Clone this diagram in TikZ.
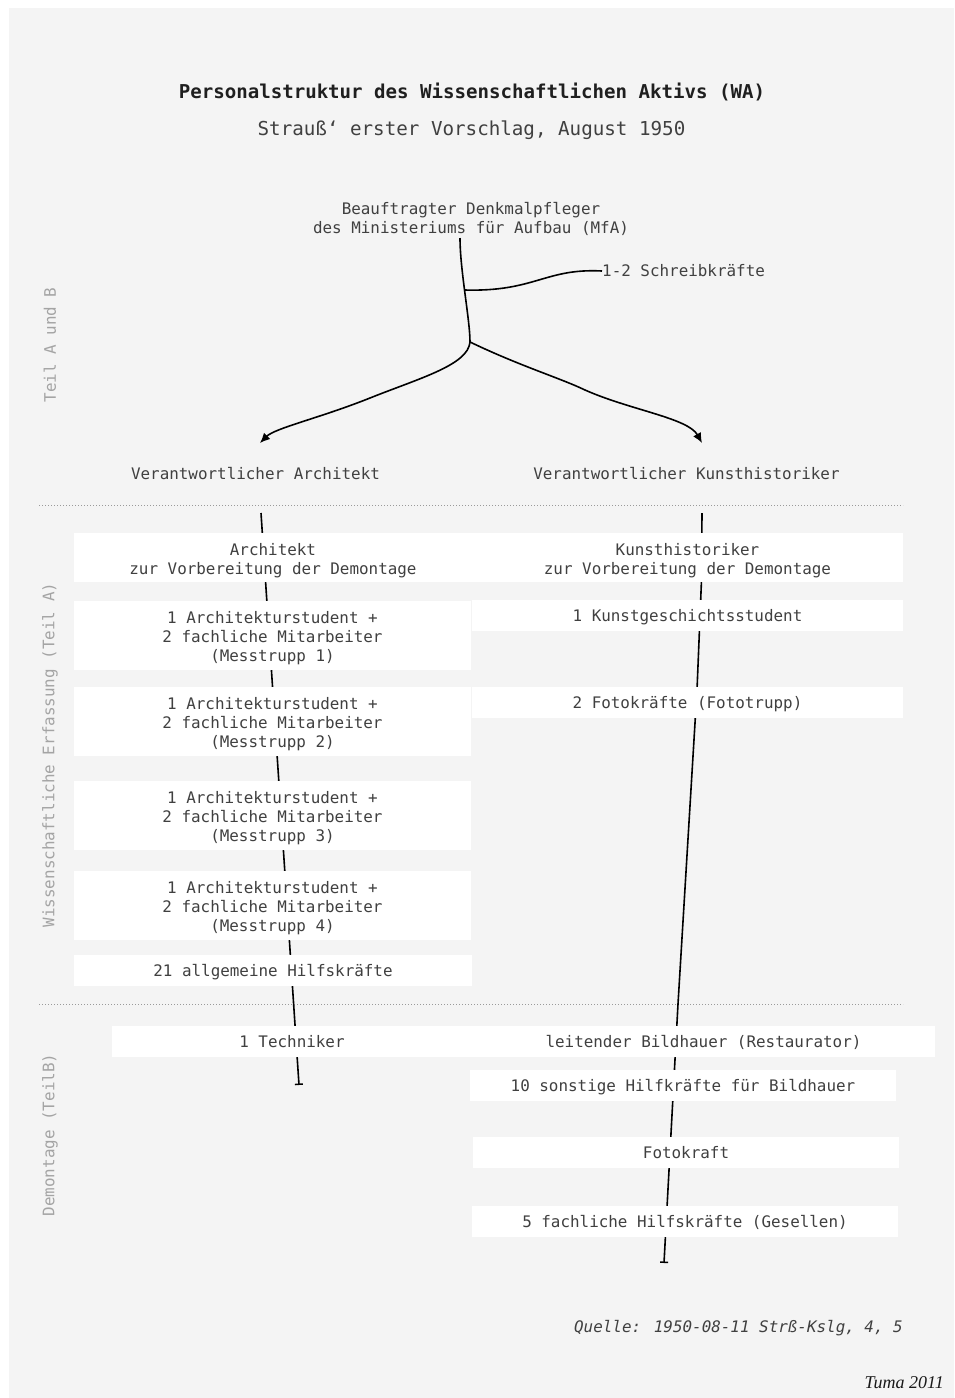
\documentclass[tikz,border=0pt]{standalone}
\usepackage{fontspec}
\setmainfont{DejaVu Sans Mono}
\newfontfamily\tumafont{Liberation Serif}
\usetikzlibrary{arrows.meta}
\definecolor{bg}{HTML}{F4F4F4}
\definecolor{txt}{HTML}{404040}
\definecolor{sidec}{HTML}{A4A4A4}
\definecolor{dotc}{HTML}{9A9A9A}
\newcommand{\tallstrut}{\rule{0pt}{18pt}}
\begin{document}
\begin{tikzpicture}[x=1pt,y=-1pt,
  lbl/.style={font=\fontsize{15.9}{19}\selectfont, text=txt, align=center, inner sep=0pt},
  box/.style={lbl, fill=white},
  onebox/.style={box, minimum height=31pt, text height=15pt, text depth=2.5pt},
  sidelbl/.style={font=\fontsize{15.9}{19}\selectfont, text=sidec, rotate=90, inner sep=0pt},
  conn/.style={line width=1.6pt, black},
  arr/.style={conn, -{Latex[length=10pt,width=9pt]}},
  endbar/.style={conn, -{Bar[width=8pt,line width=1.5pt]}},
  sep/.style={dotc, line width=1pt, dash pattern=on 1pt off 2pt},
  titlef/.style={font=\fontsize{19.1}{23}\selectfont\bfseries, text=black!88, inner sep=0pt},
  subf/.style={font=\fontsize{19.2}{23}\selectfont, text=txt, inner sep=0pt}]

\fill[white] (0,0) rectangle (954,1398);
\useasboundingbox (0,0) rectangle (954,1398);
\fill[bg] (9,8) rectangle (954,1398);

% titles
\node[titlef, anchor=base] (ti) at (472,98) {Personalstruktur des Wissenschaftlichen Aktivs (WA)};
\node[subf, anchor=base] (sti) at (471.5,135.5) {Strauß‘ erster Vorschlag, August 1950};

% side labels
\node[sidelbl] (s1) at (50,345) {Teil A und B};
\node[sidelbl] (s2) at (50,755) {Wissenschaftliche Erfassung (Teil A)};
\node[sidelbl] (s3) at (50,1135) {Demontage (TeilB)};

% separators
\coordinate (d1a) at (39,505); \coordinate (d1b) at (903,505);
\coordinate (d2a) at (39,1004); \coordinate (d2b) at (903,1004);
\draw[sep] (d1a) -- (d1b);
\draw[sep] (d2a) -- (d2b);

% top part
\node[lbl] (top) at (471,219) {Beauftragter Denkmalpfleger\\des Ministeriums für Aufbau (MfA)};
\node[lbl, anchor=west] (sk) at (602,271) {1-2 Schreibkräfte};
\node[lbl, text height=15pt, text depth=2.5pt] (va) at (255.5,473) {Verantwortlicher Architekt};
\node[lbl, text height=15pt, text depth=2.5pt] (vk) at (686.5,473) {Verantwortlicher Kunsthistoriker};

\coordinate (t0) at (460,238);
\coordinate (tb) at (464.6,290);
\coordinate (tj) at (470,342);
\coordinate (aL) at (260,443);
\coordinate (aR) at (702,443);
\draw[conn] (t0) .. controls (460,270) and (470,320) .. (tj);
\draw[conn] (tb) .. controls (535,292) and (545,268) .. (sk.west);
\draw[arr] (tj) .. controls (468,365) and (420,378) .. (370,398)
               .. controls (320,418) and (275,428) .. (aL);
\draw[arr] (tj) .. controls (520,366) and (560,378) .. (585,390)
               .. controls (630,410) and (688,418) .. (aR);

% vertical trunks (drawn under boxes)
\coordinate (la0) at (261,513);
\coordinate (la1) at (299,1085);
\coordinate (ra0) at (702,513);
\coordinate (ra1) at (664,1263);
\draw[endbar] (la0) -- (la1);
\draw[endbar] (ra0) -- (701.5,580) -- (697,690) -- (678,1004) -- (ra1);

% left column boxes
\node[box, minimum width=398pt, minimum height=49pt] (a1) at (273,557.5) {\tallstrut Architekt\\zur Vorbereitung der Demontage};
\node[box, minimum width=397pt, minimum height=69pt] (a2) at (272.5,635.5) {\tallstrut 1 Architekturstudent +\\2 fachliche Mitarbeiter\\(Messtrupp 1)};
\node[box, minimum width=397pt, minimum height=69pt] (a3) at (272.5,721.5) {\tallstrut 1 Architekturstudent +\\2 fachliche Mitarbeiter\\(Messtrupp 2)};
\node[box, minimum width=397pt, minimum height=69pt] (a4) at (272.5,815.5) {\tallstrut 1 Architekturstudent +\\2 fachliche Mitarbeiter\\(Messtrupp 3)};
\node[box, minimum width=397pt, minimum height=69pt] (a5) at (272.5,905.5) {\tallstrut 1 Architekturstudent +\\2 fachliche Mitarbeiter\\(Messtrupp 4)};
\node[onebox, minimum width=398pt] (a6) at (273,970.5) {21 allgemeine Hilfskräfte};
\node[onebox, minimum width=360pt] (a7) at (292,1041.5) {1 Techniker};

% right column boxes
\node[box, minimum width=431pt, minimum height=49pt] (k1) at (687.5,557.5) {\tallstrut Kunsthistoriker\\zur Vorbereitung der Demontage};
\node[onebox, minimum width=431pt] (k2) at (687.5,615.5) {1 Kunstgeschichtsstudent};
\node[onebox, minimum width=431pt] (k3) at (687.5,702.5) {2 Fotokräfte (Fototrupp)};
\node[onebox, minimum width=463pt] (k4) at (703.5,1041.5) {leitender Bildhauer (Restaurator)};
\node[onebox, minimum width=426pt] (k5) at (683,1085.5) {10 sonstige Hilfkräfte für Bildhauer};
\node[onebox, minimum width=426pt] (k6) at (686,1152.5) {Fotokraft};
\node[onebox, minimum width=426pt] (k7) at (685,1221.5) {5 fachliche Hilfskräfte (Gesellen)};

% source and signature
\node[lbl, anchor=base east, font=\fontsize{15.9}{19}\selectfont\itshape] (src) at (903,1332) {Quelle: 1950-08-11 Strß-Kslg, 4, 5};
\node[anchor=base east, inner sep=0pt, text=black!90, font=\tumafont\fontsize{18}{21}\selectfont\itshape] (tuma) at (944,1388) {Tuma 2011};
\end{tikzpicture}
\end{document}
